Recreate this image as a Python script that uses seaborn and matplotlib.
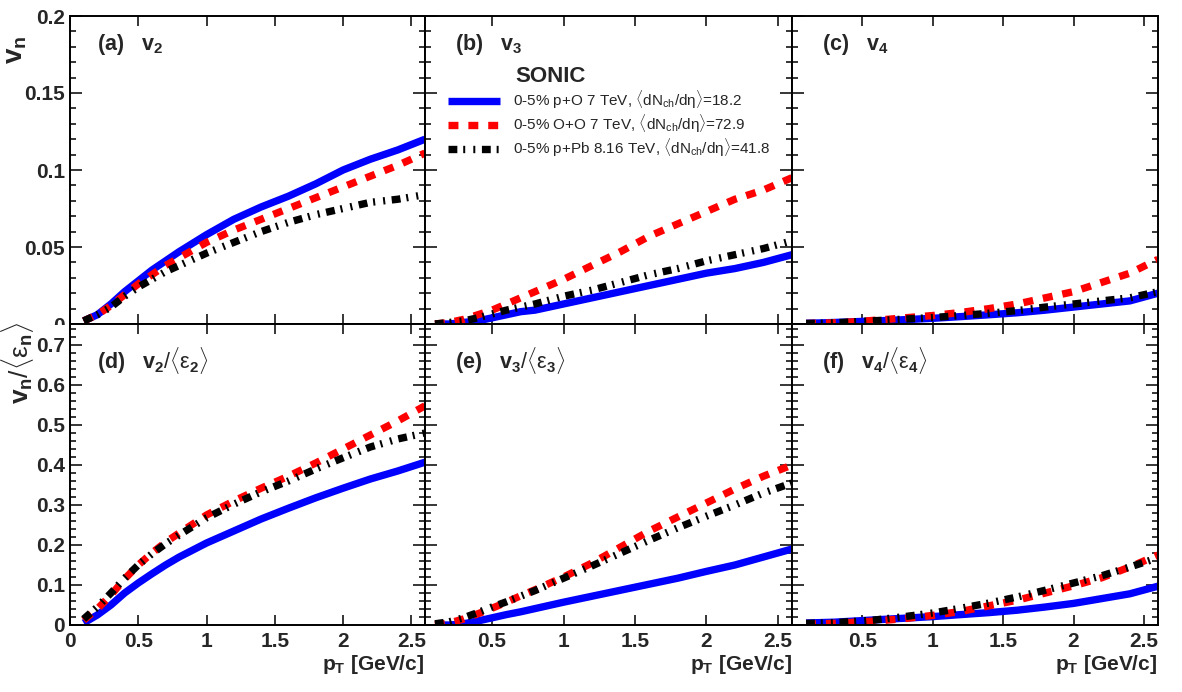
import numpy as np
import pandas as pd
import matplotlib
matplotlib.use("Agg")
import matplotlib.pyplot as plt
import seaborn as sns
from matplotlib.ticker import MultipleLocator, FixedLocator, FuncFormatter
from matplotlib.patches import Rectangle

# ---------------- data ----------------
pT = [0.1, 0.2, 0.3, 0.4, 0.5, 0.6, 0.7, 0.8, 1.0, 1.2, 1.4, 1.6, 1.8, 2.0, 2.2, 2.4, 2.6]

systems = ["0-5% p+O 7 TeV", "0-5% O+O 7 TeV", "0-5% p+Pb 8.16 TeV"]
legend_labels = [
    r"0-5% p+O 7 TeV, $\langle\mathrm{dN_{ch}/d\eta}\rangle$=18.2",
    r"0-5% O+O 7 TeV, $\langle\mathrm{dN_{ch}/d\eta}\rangle$=72.9",
    r"0-5% p+Pb 8.16 TeV, $\langle\mathrm{dN_{ch}/d\eta}\rangle$=41.8",
]

# (a) v2
v2_pO  = [0.002, 0.006, 0.013, 0.021, 0.028, 0.035, 0.041, 0.047, 0.058, 0.068, 0.076, 0.083, 0.091, 0.100, 0.107, 0.113, 0.120]
v2_OO  = [0.002, 0.006, 0.012, 0.019, 0.026, 0.032, 0.038, 0.043, 0.053, 0.061, 0.068, 0.075, 0.082, 0.089, 0.096, 0.103, 0.111]
v2_pPb = [0.002, 0.006, 0.011, 0.018, 0.024, 0.029, 0.034, 0.038, 0.046, 0.053, 0.060, 0.066, 0.071, 0.075, 0.079, 0.081, 0.084]
# (b) v3
v3_pO  = [0.000, 0.000, 0.001, 0.002, 0.004, 0.006, 0.008, 0.009, 0.013, 0.017, 0.021, 0.025, 0.029, 0.033, 0.036, 0.040, 0.045]
v3_OO  = [0.000, 0.001, 0.003, 0.006, 0.009, 0.013, 0.017, 0.021, 0.029, 0.038, 0.047, 0.057, 0.065, 0.073, 0.081, 0.087, 0.095]
v3_pPb = [0.000, 0.001, 0.002, 0.004, 0.0065, 0.009, 0.011, 0.013, 0.018, 0.022, 0.027, 0.032, 0.036, 0.041, 0.045, 0.049, 0.054]
# (c) v4
v4_pO  = [0.0005, 0.0007, 0.001, 0.0013, 0.0017, 0.002, 0.0024, 0.0028, 0.0037, 0.0048, 0.006, 0.0073, 0.009, 0.011, 0.013, 0.015, 0.020]
v4_OO  = [0.0003, 0.0005, 0.0008, 0.0012, 0.0018, 0.0025, 0.0032, 0.004, 0.0055, 0.0075, 0.010, 0.013, 0.017, 0.021, 0.027, 0.033, 0.042]
v4_pPb = [0.0003, 0.0005, 0.0008, 0.0012, 0.0017, 0.0022, 0.0027, 0.0032, 0.0042, 0.0055, 0.007, 0.0087, 0.011, 0.013, 0.015, 0.017, 0.021]
# (d) v2/<eps2>
v2e_pO  = [0.005, 0.025, 0.050, 0.080, 0.105, 0.128, 0.150, 0.170, 0.205, 0.235, 0.265, 0.292, 0.318, 0.342, 0.365, 0.385, 0.407]
v2e_OO  = [0.012, 0.040, 0.075, 0.115, 0.150, 0.180, 0.207, 0.230, 0.275, 0.310, 0.342, 0.372, 0.405, 0.440, 0.475, 0.510, 0.548]
v2e_pPb = [0.015, 0.045, 0.080, 0.117, 0.150, 0.178, 0.203, 0.225, 0.268, 0.302, 0.333, 0.360, 0.390, 0.418, 0.445, 0.465, 0.480]
# (e) v3/<eps3>
v3e_pO  = [0.000, 0.000, 0.003, 0.010, 0.018, 0.026, 0.033, 0.041, 0.057, 0.072, 0.087, 0.102, 0.117, 0.134, 0.150, 0.170, 0.190]
v3e_OO  = [0.000, 0.005, 0.015, 0.028, 0.042, 0.057, 0.073, 0.088, 0.120, 0.155, 0.195, 0.235, 0.270, 0.305, 0.340, 0.372, 0.400]
v3e_pPb = [0.003, 0.008, 0.018, 0.031, 0.045, 0.058, 0.072, 0.086, 0.117, 0.148, 0.180, 0.212, 0.243, 0.272, 0.300, 0.330, 0.355]
# (f) v4/<eps4>
v4e_pO  = [0.005, 0.006, 0.007, 0.009, 0.011, 0.013, 0.015, 0.017, 0.021, 0.026, 0.031, 0.037, 0.045, 0.054, 0.066, 0.078, 0.097]
v4e_OO  = [0.002, 0.003, 0.004, 0.006, 0.008, 0.010, 0.013, 0.016, 0.024, 0.034, 0.048, 0.062, 0.080, 0.098, 0.118, 0.145, 0.175]
v4e_pPb = [0.004, 0.005, 0.006, 0.008, 0.010, 0.013, 0.017, 0.021, 0.030, 0.042, 0.055, 0.070, 0.087, 0.105, 0.123, 0.145, 0.168]

panel_data = [
    (v2_pO, v2_OO, v2_pPb), (v3_pO, v3_OO, v3_pPb), (v4_pO, v4_OO, v4_pPb),
    (v2e_pO, v2e_OO, v2e_pPb), (v3e_pO, v3e_OO, v3e_pPb), (v4e_pO, v4e_OO, v4e_pPb),
]
panel_tags = [r"(a)   $\mathbf{v}_{\mathbf{2}}$", r"(b)   $\mathbf{v}_{\mathbf{3}}$",
              r"(c)   $\mathbf{v}_{\mathbf{4}}$",
              r"(d)   $\mathbf{v}_{\mathbf{2}}/\langle\mathrm{\varepsilon}_{\mathbf{2}}\rangle$",
              r"(e)   $\mathbf{v}_{\mathbf{3}}/\langle\mathrm{\varepsilon}_{\mathbf{3}}\rangle$",
              r"(f)   $\mathbf{v}_{\mathbf{4}}/\langle\mathrm{\varepsilon}_{\mathbf{4}}\rangle$"]

colors = {systems[0]: "#0000ff", systems[1]: "#ff0000", systems[2]: "#000000"}
dashes = {systems[0]: "", systems[1]: (1.35, 1.35), systems[2]: (1.2, 0.8, 0.27, 1.1, 0.27, 0.9)}

# ---------------- style ----------------
sns.set_style("ticks")
plt.rcParams["font.family"] = ["Liberation Sans", "DejaVu Sans"]
plt.rcParams["mathtext.fontset"] = "custom"
plt.rcParams["mathtext.rm"] = "Liberation Sans"
plt.rcParams["mathtext.bf"] = "Liberation Sans:bold"
plt.rcParams["mathtext.it"] = "Liberation Sans:italic"
plt.rcParams["mathtext.sf"] = "Liberation Sans"

W, H = 1182, 692
fig = plt.figure(figsize=(W / 100, H / 100), dpi=100)
fig.patch.set_facecolor("white")

cols = [(70, 425), (425, 792), (792, 1158)]
rows = [(16, 324), (324, 625)]
xlims = [(0, 2.6), (0.03, 2.6), (0, 2.6)]
ylims = [(0, 0.2), (0, 0.7525)]

axes = []
for r, (t, b) in enumerate(rows):
    for c, (l, rr) in enumerate(cols):
        ax = fig.add_axes([l / W, 1 - b / H, (rr - l) / W, (b - t) / H], zorder=2 * r)
        axes.append(ax)

fmt = FuncFormatter(lambda v, p: f"{v:g}")

for i, ax in enumerate(axes):
    r, c = divmod(i, 3)
    d = panel_data[i]
    df = pd.DataFrame({
        "pT": pT * 3,
        "val": list(d[0]) + list(d[1]) + list(d[2]),
        "system": [systems[0]] * len(pT) + [systems[1]] * len(pT) + [systems[2]] * len(pT),
    })
    sns.lineplot(data=df, x="pT", y="val", hue="system", style="system",
                 hue_order=systems, style_order=systems, palette=colors, dashes=dashes,
                 linewidth=5.3, legend=False, estimator=None, sort=False, ax=ax)
    for ln in ax.get_lines():
        ln.set_dash_capstyle("butt")
        ln.set_solid_capstyle("butt")
    ax.set_xlim(*xlims[c])
    ax.set_ylim(*ylims[r])
    ax.set_xlabel("")
    ax.set_ylabel("")
    ax.set_facecolor("white")
    for s in ax.spines.values():
        s.set_linewidth(1.4)
        s.set_color("black")
    if c == 0:
        ax.xaxis.set_major_locator(FixedLocator([0, 0.5, 1, 1.5, 2, 2.5]))
    else:
        ax.xaxis.set_major_locator(FixedLocator([0.5, 1, 1.5, 2, 2.5]))
    if r == 0:
        ax.yaxis.set_major_locator(MultipleLocator(0.05))
        ax.yaxis.set_minor_locator(MultipleLocator(0.01))
    else:
        ax.yaxis.set_major_locator(FixedLocator([0, 0.1, 0.2, 0.3, 0.4, 0.5, 0.6, 0.7]))
        ax.yaxis.set_minor_locator(MultipleLocator(0.02))
    ax.xaxis.set_major_formatter(fmt)
    ax.yaxis.set_major_formatter(fmt)
    ax.tick_params(axis="both", which="both", direction="in", top=True, right=True,
                   width=1.1, color="black")
    ax.tick_params(axis="y", which="major", length=8.6, pad=3.5)
    ax.tick_params(axis="y", which="minor", length=4.3)
    ax.tick_params(axis="x", which="major", length=7.2, pad=5)
    ax.tick_params(labelsize=15, labelbottom=(r == 1), labelleft=(c == 0))
    for lab in ax.get_xticklabels() + ax.get_yticklabels():
        lab.set_fontweight("bold")
    # panel tag
    tx = [97, 455, 822][c]
    ty = [50, 369][r]
    fig.text(tx / W, 1 - ty / H, panel_tags[i], fontsize=15.5, fontweight="bold",
             ha="left", va="baseline")
    if r == 1:
        xr = [424, 792, 1157][c]
        fig.text(xr / W, 1 - 670 / H, r"$\mathbf{p}_{\mathbf{T}}$ [GeV/c]", fontsize=15,
                 fontweight="bold", ha="right", va="baseline", zorder=5)

# white cover for ROOT-like pad overlap (bottom pad hides lower half of top "0")
fig.add_artist(Rectangle((0, 0), 69 / W, 1 - 324.5 / H, transform=fig.transFigure,
                         facecolor="white", edgecolor="none", zorder=1))

# y axis titles
fig.text(16 / W, 1 - 36 / H, r"$\mathbf{v}_{\mathbf{n}}$", fontsize=20, rotation=90,
         ha="center", va="top", zorder=5)
fig.text(17 / W, 1 - 321 / H,
         r"$\mathbf{v}_{\mathbf{n}}/\langle\mathrm{\varepsilon}_{\mathbf{n}}\rangle$",
         fontsize=19, rotation=90, ha="center", va="top", zorder=5)

# legend in panel (b)
axb = axes[1]
fig.text(515 / W, 1 - 77 / H, "SONIC", fontsize=16, fontweight="bold", ha="left", va="center")
handles = axb.get_lines()[:3]
axb.legend(handles, legend_labels, loc="upper left",
           bbox_to_anchor=(448 / W, 1 - 89 / H), bbox_transform=fig.transFigure,
           frameon=False, fontsize=11, handlelength=3.4, handletextpad=0.85,
           labelspacing=0.12, borderpad=0, borderaxespad=0)

fig.savefig("out.png", dpi=100)
